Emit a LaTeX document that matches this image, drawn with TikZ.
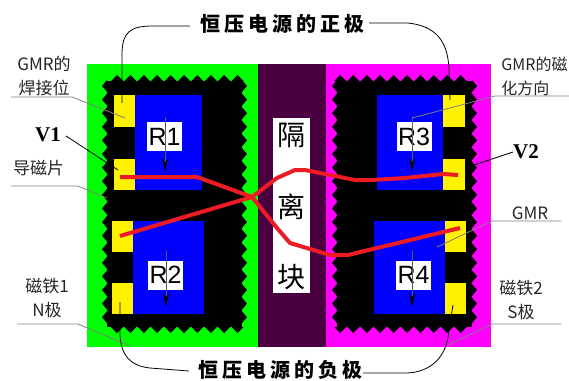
\documentclass[tikz,border=0pt]{standalone}
\usepackage{fontspec}
\usetikzlibrary{arrows.meta,positioning}
\newfontfamily\cjk{Noto Sans CJK SC}
\newfontfamily\cjkwide[LetterSpace=20]{Noto Sans CJK SC}
\setsansfont{Liberation Sans}
\newfontfamily\voltfont{Liberation Serif}
\definecolor{magnetg}{HTML}{00FF00}
\definecolor{magnetm}{HTML}{FF00FF}
\definecolor{spacerp}{HTML}{4A0040}
\definecolor{wirer}{HTML}{ED1C24}
\tikzset{
    pad/.style={fill=yellow},
    resistor/.style={fill=blue},
    rlabel/.style={fill=white, inner sep=0pt, minimum width=35pt, minimum height=29pt, font=\sffamily\fontsize{25}{25}\selectfont},
    sensedir/.style={draw=black!65, line width=.4pt, -{Stealth[length=14pt, width=6pt, black]}},
    wire/.style={draw=wirer, line width=4pt, line join=round},
    lead/.style={draw=black, line width=.8pt},
    leader/.style={draw=black!50, line width=.8pt},
    small/.style={inner sep=0pt, align=center, text=black!85, font=\cjk\fontsize{17}{24}\selectfont},
    rail/.style={inner sep=0pt, font=\cjkwide\bfseries\fontsize{20}{20}\selectfont},
    volt/.style={inner sep=0pt, font=\voltfont\bfseries\fontsize{21}{21}\selectfont},
    spacerchar/.style={inner sep=0pt, font=\cjk\fontsize{28}{28}\selectfont},
}
\begin{document}
\begin{tikzpicture}[x=1pt, y=-1pt]
    \useasboundingbox (0, 0) rectangle (569, 380);
    % magnets and spacer
    \fill[magnetg] (87, 64) rectangle (258, 347);
    \fill[spacerp] (258, 64) rectangle (326, 347);
    \fill[magnetm] (326, 64) rectangle (491, 347);
    % flux guides
    \foreach \bx/\dx in {107/10, 337/3} {
        \fill[black] (\bx, 81) rectangle ({\bx+135}, 327);
        \foreach \k in {0,...,9} {
            \fill[black] ({\bx+\dx+13.4*\k-6}, 81) -- ({\bx+\dx+13.4*\k}, 75) -- ({\bx+\dx+13.4*\k+6}, 81) -- cycle;
            \fill[black] ({\bx+\dx+13.4*\k-6}, 327) -- ({\bx+\dx+13.4*\k}, 333) -- ({\bx+\dx+13.4*\k+6}, 327) -- cycle;
        }
        \foreach \k in {0,...,17} {
            \fill[black] (\bx, {86+13.6*\k-6}) -- ({\bx-5}, {86+13.6*\k}) -- (\bx, {86+13.6*\k+6}) -- cycle;
            \fill[black] ({\bx+135}, {86+13.6*\k-6}) -- ({\bx+140}, {86+13.6*\k}) -- ({\bx+135}, {86+13.6*\k+6}) -- cycle;
        }
    }
    % resistors
    \fill[resistor] (135, 95) rectangle (202, 190);
    \fill[resistor] (133, 221) rectangle (204, 314);
    \fill[resistor] (377, 95) rectangle (443, 190);
    \fill[resistor] (374, 221) rectangle (445, 314);
    % bond pads
    \fill[pad] (114, 95) rectangle (135, 127);
    \fill[pad] (114, 159) rectangle (135, 190);
    \fill[pad] (112, 221) rectangle (133, 252);
    \fill[pad] (112, 283) rectangle (133, 314);
    \fill[pad] (443, 95) rectangle (465, 127);
    \fill[pad] (443, 159) rectangle (465, 190);
    \fill[pad] (445, 221) rectangle (466, 252);
    \fill[pad] (445, 283) rectangle (466, 314);
    % spacer text
    \fill[white] (273, 118) rectangle (310, 293);
    \node[spacerchar] (sp1) at (291.5, 135) {隔};
    \node[spacerchar] (sp2) at (291.5, 207) {离};
    \node[spacerchar] (sp3) at (291.5, 277) {块};
    % R labels
    \node[rlabel] (r1) at (164.5, 136.5) {R1};
    \node[rlabel] (r2) at (165.5, 275) {R2};
    \node[rlabel] (r3) at (414, 136.5) {R3};
    \node[rlabel] (r4) at (413.5, 275) {R4};
    \coordinate (r1t) at (165, 117);
    \coordinate (r1b) at (165, 172);
    \coordinate (r2t) at (166, 251);
    \coordinate (r2b) at (166, 307);
    \coordinate (r3t) at (412, 117);
    \coordinate (r3b) at (412, 172);
    \coordinate (r4t) at (412, 251);
    \coordinate (r4b) at (412, 307);
    \draw[sensedir] (r1t) -- (r1b);
    \draw[sensedir] (r2t) -- (r2b);
    \draw[sensedir] (r3t) -- (r3b);
    \draw[sensedir] (r4t) -- (r4b);
    % bridge wires
    \coordinate (v1) at (120, 177);
    \coordinate (v1x) at (197, 177);
    \coordinate (low1) at (120, 236);
    \coordinate (cross) at (252, 197);
    \coordinate (v2) at (458, 175);
    \coordinate (low2) at (460, 228);
    \draw[wire] (v1) -- (v1x) -- (cross) -- (277, 228) -- (290, 243) -- (330, 255) -- (348, 255) -- (low2);
    \draw[wire] (low1) -- (cross) -- (277, 178) -- (295, 170) -- (305, 170) -- (355, 180) -- (372, 180) -- (405, 178) -- (443, 174) -- (v2);
    % supply rails
    \node[rail] (plus) at (282, 24) {恒压电源的正极};
    \node[rail] (minus) at (280, 370) {恒压电源的负极};
    \coordinate (pl) at (122, 103);
    \coordinate (pr) at (450, 100);
    \coordinate (ml) at (120, 302);
    \coordinate (mr) at (453, 305);
    \draw[lead] (plus.west) ++(-10, 2) -- (153, 26) .. controls (130, 26) and (122, 32) .. (122, 55) -- (pl);
    \draw[lead] (plus.east) ++(5, -1) -- (408, 23) .. controls (435, 26) and (448, 40) .. (449, 70) -- (pr);
    \draw[lead] (minus.west) ++(-9, 1) -- (150, 368) .. controls (130, 366) and (121, 355) .. (120, 335) -- (ml);
    \draw[lead] (minus.east) ++(1, 3) -- (407, 373) .. controls (430, 372) and (447, 358) .. (449, 330) -- (mr);
    % left labels
    \node[small] (gmrpad) at (44, 76) {GMR的\\焊接位};
    \node[volt] (volt1) at (48, 135) {V1};
    \node[small] (guide) at (38.5, 168) {导磁片};
    \node[small] (mag1) at (47, 298) {磁铁1\\N极};
    \coordinate (a1) at (11, 97);
    \coordinate (a2) at (72, 97);
    \coordinate (a3) at (125, 118);
    \coordinate (b1) at (11, 186);
    \coordinate (b2) at (78, 186);
    \coordinate (b3) at (107, 198);
    \coordinate (c1) at (17, 324);
    \coordinate (c2) at (78, 324);
    \coordinate (c3) at (130, 346);
    \coordinate (v1e) at (118, 170);
    \draw[leader] (a1) -- (a2) -- (a3);
    \draw[leader] (b1) -- (b2) -- (b3);
    \draw[leader] (c1) -- (c2) -- (c3);
    \draw[lead] (volt1.east) ++(5, 1) -- (v1e);
    % right labels
    \node[small, align=left, font=\cjk\fontsize{16}{24}\selectfont] (gmrdir) at (534.5, 76) {GMR的磁\\化方向};
    \node[volt] (volt2) at (526, 152) {V2};
    \node[small] (gmrtag) at (530, 213) {GMR};
    \node[small] (mag2) at (521, 300) {磁铁2\\S极};
    \coordinate (d1) at (569, 96);
    \coordinate (d2) at (495, 96);
    \coordinate (d3) at (412, 118);
    \coordinate (e1) at (561, 221);
    \coordinate (e2) at (492, 221);
    \coordinate (e3) at (437, 247);
    \coordinate (f1) at (561, 324);
    \coordinate (f2) at (492, 324);
    \coordinate (f3) at (448, 345);
    \coordinate (v2e) at (465, 168);
    \draw[leader] (d1) -- (d2) -- (d3);
    \draw[leader] (e1) -- (e2) -- (e3);
    \draw[leader] (f1) -- (f2) -- (f3);
    \draw[lead] (volt2.west) -- (v2e);
\end{tikzpicture}
\end{document}
